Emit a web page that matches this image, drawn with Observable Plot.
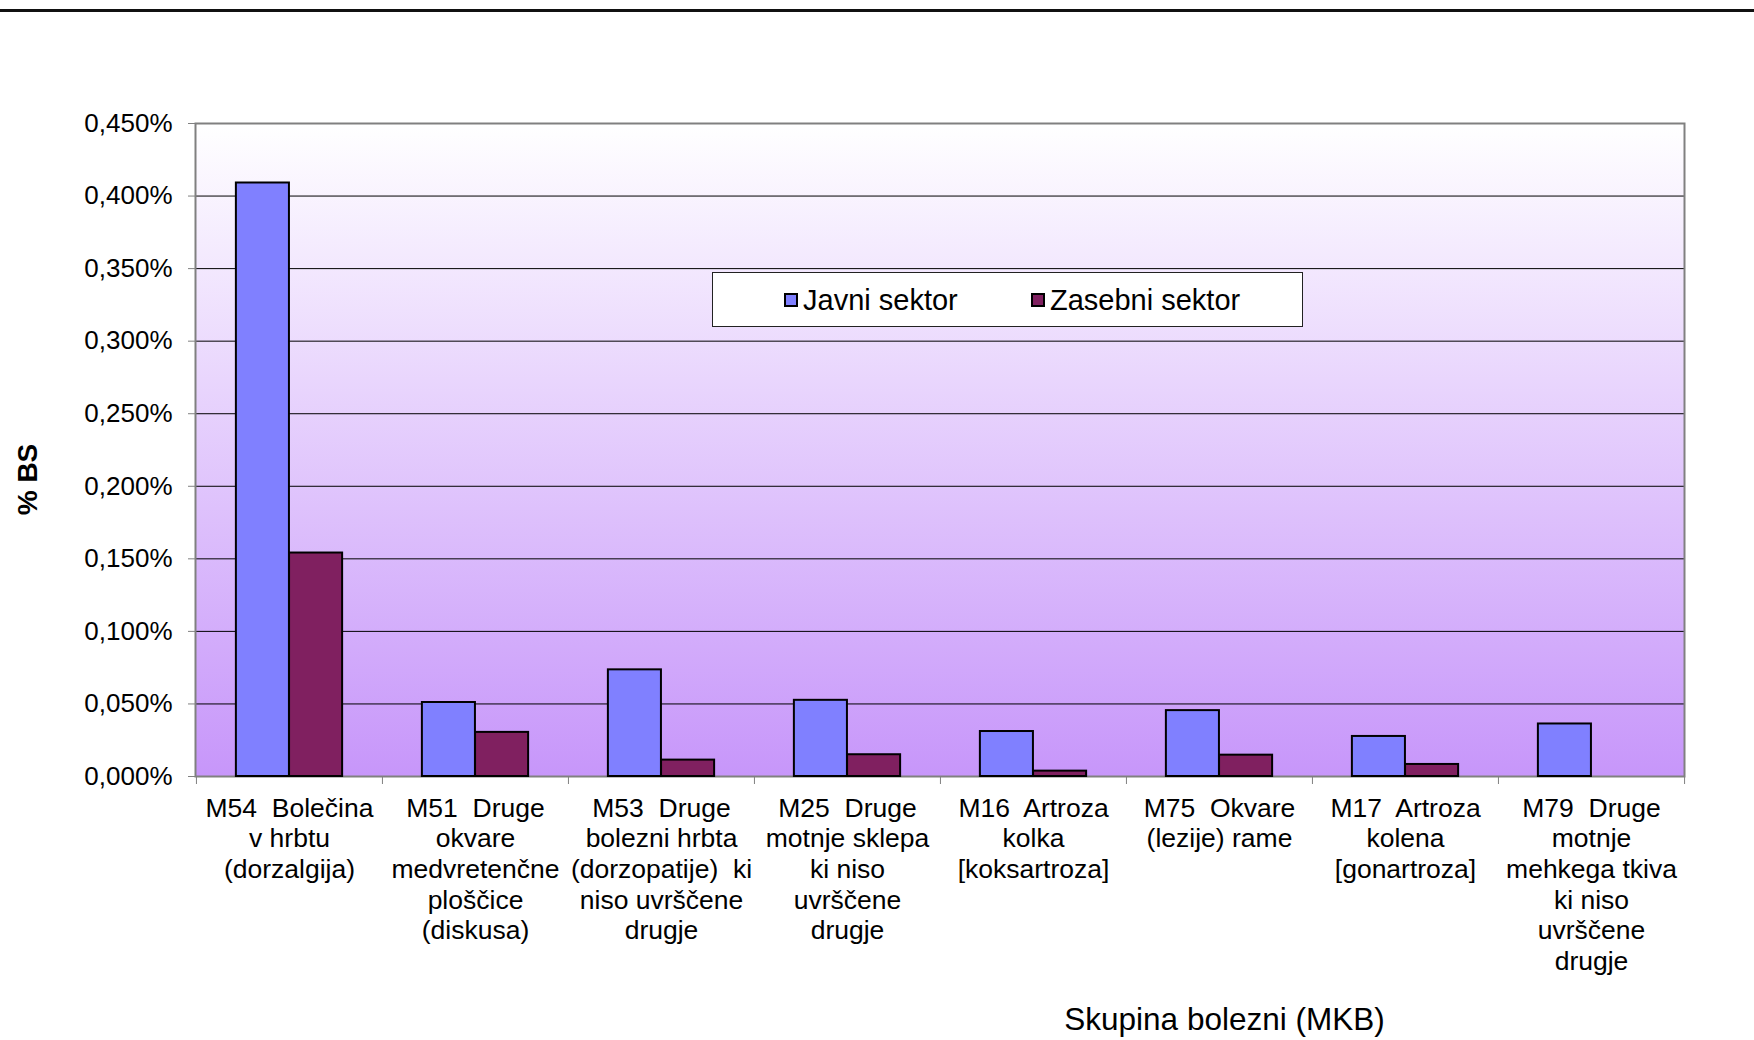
<!DOCTYPE html>
<html><head><meta charset="utf-8">
<script src="https://cdn.jsdelivr.net/npm/d3@7"></script>
<script src="https://cdn.jsdelivr.net/npm/@observablehq/plot@0.6"></script>
<style>
body{margin:0;background:#fff;font-family:"Liberation Sans",Arial,sans-serif;}
#wrap{position:relative;width:1754px;height:1040px;overflow:hidden;}
#wrap svg text{white-space:pre;}
.topline{position:absolute;left:0;top:9px;width:1754px;height:3px;background:#111;}
.legend{position:absolute;left:712px;top:272px;width:591px;height:55px;border:1px solid #222;background:#fff;box-sizing:border-box;}
.sw{position:absolute;top:20px;width:14px;height:14px;border:2px solid #000;box-sizing:border-box;}
.lt{position:absolute;top:13px;font-size:29px;line-height:29px;color:#000;white-space:nowrap;}
</style></head><body><div id="wrap"></div>
<script>
const codes = ["M54","M51","M53","M25","M16","M75","M17","M79"];
const tickLabels = [
  "M54  Bolečina\nv hrbtu\n(dorzalgija)",
  "M51  Druge\nokvare\nmedvretenčne\nploščice\n(diskusa)",
  "M53  Druge\nbolezni hrbta\n(dorzopatije)  ki\nniso uvrščene\ndrugje",
  "M25  Druge\nmotnje sklepa\nki niso\nuvrščene\ndrugje",
  "M16  Artroza\nkolka\n[koksartroza]",
  "M75  Okvare\n(lezije) rame",
  "M17  Artroza\nkolena\n[gonartroza]",
  "M79  Druge\nmotnje\nmehkega tkiva\nki niso\nuvrščene\ndrugje"
];
const series = ["Javni sektor", "Zasebni sektor"];
const javni   = [0.409, 0.051, 0.0735, 0.0525, 0.031, 0.0454, 0.0276, 0.0362];
const zasebni = [0.154, 0.0304, 0.0113, 0.015, 0.0037, 0.0147, 0.0083, 0];
const yTicks = [0, 0.05, 0.1, 0.15, 0.2, 0.25, 0.3, 0.35, 0.4, 0.45];
const colors = ["#8080FF", "#802060"];
const yLabel = "% BS";
const xLabel = "Skupina bolezni (MKB)";

const W = 1754, H = 1040, mL = 195, mR = 70, mT = 123, mB = 264;
const bw = (W - mL - mR) / codes.length;
const barW = bw / 3.5;
const outer = 0.75 * barW;

const rows = codes.map((c, i) => ({code: c, label: tickLabels[i], javni: javni[i], zasebni: zasebni[i]}));

const defsMark = () => {
  const defs = d3.create("svg:defs");
  const g = defs.append("linearGradient").attr("id", "bgGrad")
    .attr("x1", 0).attr("y1", 0).attr("x2", 0).attr("y2", 1);
  g.append("stop").attr("offset", "0%").attr("stop-color", "#FFFFFF");
  g.append("stop").attr("offset", "100%").attr("stop-color", "#C796FA");
  return defs.node();
};

const fmt = d => d.toFixed(3).replace(".", ",") + "%";

const chart = Plot.plot({
  width: W, height: H,
  marginLeft: mL, marginRight: mR, marginTop: mT, marginBottom: mB,
  style: {fontFamily: '"Liberation Sans", Arial, sans-serif', background: "transparent", color: "#000"},
  x: {type: "band", domain: codes, padding: 0, label: null},
  y: {domain: [0, 0.45], label: null},
  marks: [
    defsMark,
    Plot.frame({fill: "white", stroke: null, className: "bgframe"}),
    Plot.gridY(yTicks.filter(t => t > 0 && t < 0.45), {stroke: "#000", strokeOpacity: 1, strokeWidth: 1}),
    Plot.axisY({ticks: yTicks, tickFormat: fmt, tickSize: 7, tickPadding: 16, fontSize: 26, stroke: "#808080", fill: "#000", label: null}),
    Plot.axisX({ticks: codes, tickSize: 8, tickFormat: () => "", dx: -bw / 2, stroke: "#808080", label: null}),
    Plot.axisX({ticks: [codes[codes.length - 1]], tickSize: 8, tickFormat: () => "", dx: bw / 2, stroke: "#808080", label: null}),
    Plot.frame({stroke: "#808080", strokeWidth: 2}),
    Plot.barY(rows, {x: "code", y: "javni", fill: colors[0], stroke: "#000", strokeWidth: 2,
      insetLeft: outer, insetRight: bw - outer - barW}),
    Plot.barY(rows.filter(d => d.zasebni > 0), {x: "code", y: "zasebni", fill: colors[1], stroke: "#000", strokeWidth: 2,
      insetLeft: outer + barW, insetRight: outer}),
    Plot.text(rows, {x: "code", text: "label", frameAnchor: "bottom", lineAnchor: "top", dy: 18.5,
      fontSize: 26.5, lineHeight: 1.155, fill: "#000"}),
    Plot.text([yLabel], {text: d => d, frameAnchor: "left", textAnchor: "middle", lineAnchor: "middle",
      dx: 28 - mL, dy: 29.5, rotate: -90, fontWeight: "bold", fontSize: 28, fill: "#000"}),
    Plot.text([xLabel], {text: d => d, frameAnchor: "bottom", textAnchor: "middle", lineAnchor: "bottom",
      dx: 284.5, dy: 253, fontSize: 31.5, fill: "#000"})
  ]
});

d3.select(chart).selectAll("[aria-label=frame]").filter(function(){ return this.getAttribute("fill") === "white"; }).attr("fill", "url(#bgGrad)");

const wrap = document.getElementById("wrap");
wrap.appendChild(chart);

const topRule = document.createElement("div");
topRule.className = "topline";
wrap.appendChild(topRule);

const legendBox = document.createElement("div");
legendBox.className = "legend";
const itemX = [71, 318];
series.forEach((s, i) => {
  const sw = document.createElement("div");
  sw.className = "sw";
  sw.style.left = itemX[i] + "px";
  sw.style.background = colors[i];
  legendBox.appendChild(sw);
  const t = document.createElement("div");
  t.className = "lt";
  t.style.left = (itemX[i] + 19) + "px";
  t.textContent = s;
  legendBox.appendChild(t);
});
wrap.appendChild(legendBox);
</script></body></html>
